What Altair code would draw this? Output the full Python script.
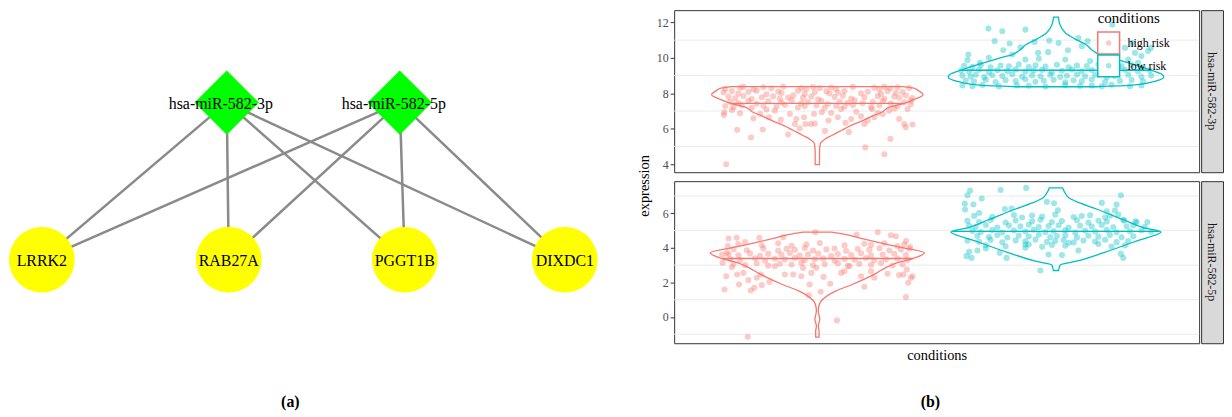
import altair as alt
import pandas as pd

SERIF = "Liberation Serif"
HIGH, LOW = "high risk", "low risk"
MIR3, MIR5 = "hsa-miR-582-3p", "hsa-miR-582-5p"
COLORS = ["#F8766D", "#00BFC4"]

# ---------------- network (a) ----------------
NODE_NAMES = [MIR3, MIR5, "LRRK2", "RAB27A", "PGGT1B", "DIXDC1"]
NODE_KIND = ["mirna", "mirna", "gene", "gene", "gene", "gene"]
NODE_X = [219, 393, 33, 221, 398, 559]      # layout positions
NODE_Y = [93, 93, 251, 251, 251, 251]
EDGES = [(MIR3, "LRRK2"), (MIR3, "RAB27A"), (MIR3, "PGGT1B"), (MIR3, "DIXDC1"),
         (MIR5, "LRRK2"), (MIR5, "RAB27A"), (MIR5, "PGGT1B"), (MIR5, "DIXDC1")]

# ---------------- violin data (b) ----------------
LEGEND_TITLE = "conditions"
LEGEND_ITEMS = [HIGH, LOW]
# jittered points: (jitter offset, expression)
HR_3P = [(-0.382, 4.00), (-0.336, 5.94), (-0.278, 5.51), (-0.229, 5.96), (-0.122, 5.68), (0.032, 5.88),
         (0.132, 5.81), (0.201, 4.95), (0.281, 4.56), (0.306, 5.43), (0.343, 6.55), (0.371, 6.09),
         (0.399, 6.24), (0.364, 6.27), (-0.392, 6.78), (-0.390, 6.93), (-0.358, 7.06), (-0.324, 6.87),
         (-0.268, 6.59), (-0.240, 6.83), (-0.213, 7.08), (-0.178, 7.02), (-0.153, 6.50), (-0.115, 6.83),
         (-0.094, 6.27), (-0.074, 6.03), (-0.050, 6.27), (-0.028, 6.27), (-0.014, 6.83), (-0.011, 6.29),
         (-0.056, 6.65), (-0.088, 6.55), (0.019, 6.93), (0.047, 6.46), (0.058, 6.89), (0.086, 6.65),
         (0.100, 7.11), (0.118, 6.33), (0.142, 6.55), (0.163, 6.96), (0.183, 6.70), (0.197, 6.27),
         (0.211, 6.46), (0.229, 7.11), (0.239, 6.65), (0.253, 6.89), (0.274, 6.83), (0.301, 7.02),
         (0.322, 7.15), (0.378, 7.11), (0.392, 7.39), (-0.203, 6.65),
         (-0.386, 8.25), (-0.324, 8.31), (-0.310, 8.36), (-0.268, 8.22), (-0.226, 8.34), (-0.192, 8.28),
         (-0.143, 8.37), (-0.067, 8.30), (-0.046, 8.24), (-0.018, 8.35), (0.010, 8.29), (0.058, 8.33),
         (0.079, 8.26), (0.149, 8.36), (0.239, 8.32), (0.260, 8.21), (0.281, 8.37), (0.306, 8.27),
         (0.336, 8.34), (0.385, 8.30),
         (-0.393, 8.05), (-0.358, 8.12), (-0.331, 7.98), (-0.289, 8.08), (-0.254, 8.15), (-0.213, 7.95),
         (-0.164, 8.10), (-0.150, 8.02), (-0.081, 8.14), (-0.053, 7.97), (-0.011, 8.06), (0.038, 8.11),
         (0.051, 7.99), (0.086, 8.04), (0.114, 8.13), (0.183, 8.00), (0.211, 8.09), (0.267, 7.96),
         (0.294, 8.12), (0.329, 8.03), (0.357, 8.07),
         (-0.372, 7.80), (-0.344, 7.72), (-0.310, 7.85), (-0.275, 7.68), (-0.233, 7.78), (-0.185, 7.83),
         (-0.157, 7.70), (-0.122, 7.76), (-0.101, 7.88), (-0.060, 7.74), (-0.025, 7.81), (0.003, 7.66),
         (0.072, 7.79), (0.107, 7.86), (0.142, 7.71), (0.197, 7.77), (0.253, 7.84), (0.281, 7.69),
         (0.322, 7.82), (0.343, 7.75), (0.371, 7.87), (0.398, 7.73),
         (-0.365, 7.52), (-0.331, 7.45), (-0.289, 7.58), (-0.254, 7.41), (-0.206, 7.55), (-0.150, 7.48),
         (-0.108, 7.61), (-0.067, 7.43), (-0.039, 7.50), (0.017, 7.57), (0.044, 7.40), (0.093, 7.53),
         (0.128, 7.46), (0.156, 7.60), (0.190, 7.44), (0.232, 7.51), (0.274, 7.56), (0.308, 7.42),
         (0.364, 7.49), (0.392, 7.59),
         (-0.386, 7.28), (-0.351, 7.22), (-0.317, 7.33), (-0.275, 7.18), (-0.226, 7.30), (-0.171, 7.25),
         (-0.136, 7.35), (-0.081, 7.20), (-0.053, 7.27), (-0.004, 7.32), (0.031, 7.19), (0.079, 7.29),
         (0.114, 7.24), (0.149, 7.34), (0.225, 7.21), (0.260, 7.31), (0.336, 7.26)]

LR_3P = [(-0.283, 11.65), (-0.225, 11.50), (-0.128, 11.59), (-0.257, 10.94), (-0.194, 10.81), (-0.221, 10.43),
         (-0.367, 10.19), (-0.371, 9.87), (-0.319, 9.72), (-0.281, 10.00), (-0.149, 10.60), (-0.090, 10.90),
         (-0.075, 10.28), (-0.028, 10.97), (0.011, 10.84), (0.050, 10.43), (-0.033, 10.32), (0.094, 11.12),
         (0.133, 10.94), (0.108, 10.66), (0.236, 11.87), (0.289, 10.56), (0.319, 10.84), (0.331, 10.28),
         (0.358, 10.10), (0.386, 10.38), (0.398, 10.56), (0.303, 9.91), (0.344, 9.72), (0.185, 10.47),
         (0.226, 10.56), (-0.183, 10.19), (-0.128, 9.91), (-0.072, 9.95), (0.039, 9.91), (0.143, 9.82),
         (0.275, 9.54),
         (-0.385, 9.55), (-0.350, 9.49), (-0.315, 9.60), (-0.274, 9.46), (-0.232, 9.57), (-0.197, 9.52),
         (-0.156, 9.63), (-0.114, 9.48), (-0.086, 9.58), (-0.044, 9.51), (0.004, 9.61), (0.053, 9.47),
         (0.088, 9.56), (0.129, 9.53), (0.178, 9.62), (0.261, 9.50), (0.317, 9.59), (0.365, 9.45),
         (-0.398, 9.28), (-0.364, 9.21), (-0.322, 9.33), (-0.281, 9.19), (-0.246, 9.30), (-0.204, 9.25),
         (-0.169, 9.35), (-0.128, 9.22), (-0.093, 9.29), (-0.058, 9.32), (-0.017, 9.18), (0.025, 9.27),
         (0.067, 9.34), (0.108, 9.23), (0.150, 9.31), (0.192, 9.20), (0.233, 9.26), (0.289, 9.33),
         (0.344, 9.24), (0.393, 9.29),
         (-0.392, 9.00), (-0.357, 8.94), (-0.336, 9.05), (-0.301, 8.91), (-0.267, 9.02), (-0.225, 8.97),
         (-0.183, 9.07), (-0.142, 8.93), (-0.100, 9.01), (-0.065, 8.96), (-0.024, 9.04), (0.018, 8.92),
         (0.046, 8.99), (0.088, 9.06), (0.122, 8.95), (0.164, 9.03), (0.213, 8.90), (0.247, 8.98),
         (0.303, 9.05), (0.358, 8.93), (0.399, 9.00),
         (-0.378, 8.72), (-0.343, 8.66), (-0.294, 8.77), (-0.253, 8.63), (-0.211, 8.74), (-0.169, 8.69),
         (-0.128, 8.79), (-0.086, 8.65), (-0.051, 8.71), (-0.010, 8.76), (0.039, 8.62), (0.074, 8.73),
         (0.108, 8.68), (0.150, 8.78), (0.206, 8.64), (0.268, 8.70), (0.317, 8.75), (0.365, 8.67),
         (-0.392, 8.44), (-0.350, 8.40), (-0.308, 8.47), (-0.239, 8.39), (-0.163, 8.45), (-0.114, 8.42),
         (-0.044, 8.38), (0.039, 8.46), (0.101, 8.41), (0.150, 8.43), (0.192, 8.39), (0.233, 8.48),
         (0.310, 8.40), (0.358, 8.44)]

HR_5P = [(-0.292, -1.15), (0.082, -0.20), (0.371, 1.15), (-0.389, 1.59), (-0.328, 1.88), (-0.279, 1.53),
         (-0.264, 1.69), (-0.233, 1.84), (-0.201, 2.02), (-0.032, 1.88), (-0.036, 1.26), (0.014, 1.46),
         (0.054, 1.92), (0.197, 1.75), (0.381, 1.98), (-0.382, 2.36), (-0.336, 2.46), (-0.310, 2.55),
         (-0.289, 2.13), (-0.254, 2.27), (-0.236, 2.46), (-0.178, 2.94), (-0.136, 2.46), (-0.101, 2.46),
         (-0.067, 2.36), (-0.060, 2.84), (-0.025, 2.55), (-0.004, 2.84), (0.026, 2.32), (0.100, 2.55),
         (0.114, 2.65), (0.135, 2.94), (0.183, 2.36), (0.225, 2.65), (0.239, 2.27), (0.294, 2.50),
         (0.343, 2.42), (0.361, 2.46), (0.399, 2.36), (0.392, 2.27), (0.375, 2.75),
         (-0.372, 4.54), (-0.338, 4.58), (-0.303, 4.33), (-0.243, 4.58), (-0.143, 4.62), (-0.008, 4.90),
         (0.165, 4.77), (0.253, 4.90), (0.308, 4.73), (0.329, 4.67), (0.372, 4.39), (0.389, 4.04),
         (-0.375, 4.10), (-0.379, 3.71), (-0.399, 3.61), (-0.397, 3.13), (-0.358, 2.88),
         (-0.331, 4.22), (-0.233, 4.15), (-0.164, 4.26), (-0.108, 4.12), (-0.046, 4.20), (0.010, 4.28),
         (0.114, 4.14), (0.197, 4.24), (0.225, 4.17), (0.281, 4.27), (0.336, 4.11), (0.364, 4.21),
         (-0.351, 3.92), (-0.296, 3.86), (-0.226, 3.97), (-0.164, 3.83), (-0.129, 3.94), (-0.094, 3.89),
         (-0.053, 3.99), (-0.018, 3.85), (0.038, 3.91), (0.072, 3.96), (0.121, 3.82), (0.169, 3.93),
         (0.218, 3.88), (0.260, 3.98), (0.301, 3.84), (0.350, 3.90), (0.385, 3.95),
         (-0.372, 3.63), (-0.331, 3.57), (-0.282, 3.68), (-0.240, 3.54), (-0.206, 3.65), (-0.150, 3.60),
         (-0.115, 3.70), (-0.074, 3.56), (-0.039, 3.62), (0.003, 3.67), (0.058, 3.53), (0.086, 3.64),
         (0.142, 3.59), (0.183, 3.69), (0.225, 3.55), (0.274, 3.61), (0.322, 3.66), (0.371, 3.58),
         (-0.365, 3.35), (-0.324, 3.29), (-0.261, 3.40), (-0.219, 3.26), (-0.178, 3.37), (-0.136, 3.32),
         (-0.094, 3.42), (-0.053, 3.28), (-0.011, 3.34), (0.024, 3.39), (0.072, 3.25), (0.114, 3.36),
         (0.156, 3.31), (0.204, 3.41), (0.239, 3.27), (0.288, 3.33), (0.336, 3.38), (0.378, 3.30),
         (-0.351, 3.06), (-0.303, 3.00), (-0.254, 3.11), (-0.206, 2.97), (-0.157, 3.08), (-0.108, 3.03),
         (-0.067, 3.13), (-0.018, 2.99), (0.031, 3.05), (0.086, 3.10), (0.128, 2.96), (0.176, 3.07),
         (0.225, 3.02), (0.267, 3.12), (0.315, 2.98), (0.357, 3.04)]

LR_5P = [(-0.125, 7.47), (-0.232, 7.35), (-0.360, 7.31), (-0.371, 7.04), (-0.311, 6.85), (-0.382, 6.56),
         (-0.381, 6.22), (-0.346, 6.51), (-0.322, 6.02), (-0.214, 6.25), (-0.186, 6.27), (-0.038, 6.66),
         (-0.008, 6.58), (0.008, 6.18), (0.192, 6.60), (0.272, 7.04), (0.254, 6.50), (0.213, 6.12),
         (0.247, 6.16), (0.261, 5.93), (0.286, 5.58), (0.333, 5.54), (0.383, 5.50), (-0.065, 2.69),
         (0.025, 3.58), (-0.128, 4.00), (-0.128, 4.19), (-0.207, 3.42), (-0.329, 3.85), (-0.364, 3.77),
         (-0.375, 3.52), (-0.354, 3.42), (-0.294, 3.96), (-0.236, 3.71), (-0.031, 3.61), (0.094, 3.85),
         (0.282, 3.42), (0.272, 3.65), (0.053, 4.29),
         (-0.343, 5.85), (-0.267, 5.79), (-0.176, 5.90), (-0.142, 5.76), (-0.100, 5.87), (-0.058, 5.81),
         (-0.003, 5.92), (0.074, 5.78), (0.108, 5.84), (0.143, 5.89), (0.206, 5.75), (0.226, 5.86),
         (-0.371, 5.56), (-0.322, 5.50), (-0.274, 5.61), (-0.211, 5.47), (-0.169, 5.58), (-0.100, 5.53),
         (-0.065, 5.63), (-0.017, 5.49), (0.025, 5.55), (0.088, 5.60), (0.136, 5.46), (0.178, 5.57),
         (0.213, 5.52), (0.282, 5.62), (0.338, 5.48),
         (-0.364, 5.27), (-0.336, 5.21), (-0.294, 5.32), (-0.246, 5.18), (-0.197, 5.29), (-0.149, 5.24),
         (-0.114, 5.34), (-0.072, 5.20), (-0.031, 5.26), (0.011, 5.31), (0.053, 5.17), (0.101, 5.28),
         (0.150, 5.23), (0.192, 5.33), (0.240, 5.19), (0.296, 5.25), (0.324, 5.30), (0.372, 5.22),
         (-0.350, 4.98), (-0.315, 4.92), (-0.267, 5.03), (-0.225, 4.89), (-0.176, 5.00), (-0.128, 4.95),
         (-0.093, 5.05), (-0.044, 4.91), (-0.010, 4.97), (0.039, 5.02), (0.081, 4.88), (0.122, 4.99),
         (0.164, 4.94), (0.213, 5.04), (0.254, 4.90), (0.310, 4.96), (0.358, 5.01), (0.399, 4.93),
         (-0.329, 4.69), (-0.281, 4.63), (-0.246, 4.74), (-0.204, 4.60), (-0.156, 4.71), (-0.114, 4.66),
         (-0.072, 4.76), (-0.024, 4.62), (0.004, 4.68), (0.039, 4.73), (0.088, 4.59), (0.136, 4.70),
         (0.178, 4.65), (0.226, 4.75), (0.275, 4.61), (0.324, 4.67),
         (-0.371, 4.41), (-0.322, 4.35), (-0.274, 4.46), (-0.225, 4.32), (-0.169, 4.43), (-0.128, 4.38),
         (-0.086, 4.48), (-0.038, 4.34), (-0.003, 4.40), (0.032, 4.45), (0.074, 4.31), (0.115, 4.42),
         (0.164, 4.37), (0.206, 4.47), (0.254, 4.33), (0.303, 4.39),
         (-0.294, 4.15), (-0.211, 4.09), (-0.114, 4.20), (-0.058, 4.06), (-0.017, 4.17), (0.039, 4.12),
         (0.178, 4.22), (0.233, 4.08), (0.289, 4.14)]

# violin outlines: (expression, half width)
HR_3P_VIOLIN = [(8.38, 0.36), (8.30, 0.40), (8.14, 0.425), (7.92, 0.443), (7.68, 0.41), (7.43, 0.364),
                (7.21, 0.30), (6.93, 0.27), (6.74, 0.235), (6.46, 0.19), (6.18, 0.14), (5.90, 0.10),
                (5.62, 0.06), (5.40, 0.03), (5.16, 0.012), (4.60, 0.009), (3.98, 0.009)]
LR_3P_VIOLIN = [(12.30, 0.010), (11.87, 0.017), (11.40, 0.040), (11.10, 0.075), (10.75, 0.125),
                (10.40, 0.155), (10.20, 0.18), (10.01, 0.23), (9.73, 0.30), (9.45, 0.368), (9.30, 0.40),
                (9.10, 0.44), (8.92, 0.452), (8.645, 0.405), (8.46, 0.32), (8.37, 0.17)]
HR_5P_VIOLIN = [(4.906, 0.058), (4.81, 0.104), (4.578, 0.174), (4.289, 0.264), (4.00, 0.361),
                (3.711, 0.449), (3.383, 0.40), (3.133, 0.333), (2.844, 0.285), (2.555, 0.25),
                (2.266, 0.208), (1.88, 0.146), (1.495, 0.076), (1.11, 0.03), (0.724, 0.008),
                (0.339, 0.004), (-0.143, 0.010), (-0.528, 0.004), (-0.817, 0.007), (-1.164, 0.007)]
LR_5P_VIOLIN = [(7.47, 0.028), (7.18, 0.038), (6.89, 0.055), (6.60, 0.10), (6.22, 0.175), (5.64, 0.28),
                (5.16, 0.37), (4.93, 0.44), (4.39, 0.336), (3.71, 0.197), (3.23, 0.086), (3.00, 0.017),
                (2.69, 0.011)]
# median lines: (expression, half width)
MEDIANS = {(MIR3, HIGH): (7.43, 0.364), (MIR3, LOW): (9.30, 0.40),
           (MIR5, HIGH): (3.383, 0.40), (MIR5, LOW): (4.96, 0.435)}

Y_DOMAIN = {MIR3: [3.55, 12.69], MIR5: [-1.52, 7.86]}
Y_TICKS = {MIR3: [4, 6, 8, 10, 12], MIR5: [0, 2, 4, 6]}
Y_GRID = {MIR3: [5, 7, 9, 11], MIR5: [-1, 1, 3, 5, 7]}
CENTER = {HIGH: 1, LOW: 2}

# ---------------- tables ----------------
nodes = pd.DataFrame({"name": NODE_NAMES, "kind": NODE_KIND, "x": NODE_X, "y": NODE_Y})
pos = {n: (x, y) for n, x, y in zip(NODE_NAMES, NODE_X, NODE_Y)}
edges = pd.DataFrame([{"x": pos[a][0], "y": pos[a][1], "x2": pos[b][0], "y2": pos[b][1]} for a, b in EDGES])

pt_rows, vl_rows, md_rows = [], [], []
for mir, cond, pts, prof in [(MIR3, HIGH, HR_3P, HR_3P_VIOLIN), (MIR3, LOW, LR_3P, LR_3P_VIOLIN),
                             (MIR5, HIGH, HR_5P, HR_5P_VIOLIN), (MIR5, LOW, LR_5P, LR_5P_VIOLIN)]:
    c = CENTER[cond]
    for j, v in pts:
        pt_rows.append({"mir": mir, "condition": cond, "x": c + j, "expression": v})
    for v, hw in prof:
        vl_rows.append({"mir": mir, "condition": cond, "expression": v, "left": c - hw, "right": c + hw})
    mv, mhw = MEDIANS[(mir, cond)]
    md_rows.append({"mir": mir, "condition": cond, "expression": mv, "left": c - mhw, "right": c + mhw})
pts_df = pd.DataFrame(pt_rows)
vl_df = pd.DataFrame(vl_rows)
md_df = pd.DataFrame(md_rows)
leg_df = pd.DataFrame({"condition": LEGEND_ITEMS})

# ---------------- network chart ----------------
NW, NH = 620, 396
xs = alt.Scale(domain=[0, NW], nice=False, zero=False)
ys = alt.Scale(domain=[0, NH], nice=False, zero=False, reverse=True)
base_x = alt.X("x:Q", scale=xs, axis=None)
base_y = alt.Y("y:Q", scale=ys, axis=None)

edge_layer = alt.Chart(edges).mark_rule(color="#8A8A8A", strokeWidth=2.5).encode(
    x=base_x, y=base_y, x2="x2:Q", y2="y2:Q")
diamonds = alt.Chart(nodes).transform_filter("datum.kind === 'mirna'").mark_point(
    shape="diamond", filled=True, size=4200, color="#00FF00", opacity=1).encode(x=base_x, y=base_y)
circles = alt.Chart(nodes).transform_filter("datum.kind === 'gene'").mark_point(
    shape="circle", filled=True, size=4356, color="#FFFF00", opacity=1).encode(x=base_x, y=base_y)
mir_labels = alt.Chart(nodes).transform_filter("datum.kind === 'mirna'").mark_text(
    font=SERIF, fontSize=16, color="black", dx=-6, dy=1).encode(x=base_x, y=base_y, text="name:N")
gene_labels = alt.Chart(nodes).transform_filter("datum.kind === 'gene'").mark_text(
    font=SERIF, fontSize=16, color="black", dy=1).encode(x=base_x, y=base_y, text="name:N")
cap_a = alt.Chart(alt.Data(values=[{"t": "(a)"}])).mark_text(
    font=SERIF, fontSize=16, fontWeight="bold", color="black").encode(
    text="t:N", x=alt.value(283), y=alt.value(394))

network = alt.layer(edge_layer, diamonds, circles, mir_labels, gene_labels, cap_a).properties(
    width=NW, height=NH, view=alt.ViewBackground(stroke="transparent"))

# ---------------- violin panels ----------------
PW, PH = 528, 163


def legend_layer():
    ly = alt.Y("condition:N", scale=alt.Scale(domain=LEGEND_ITEMS, range=[33, 56], padding=0),
               axis=None)
    cscale = alt.Scale(domain=[HIGH, LOW], range=COLORS)
    keybg = alt.Chart(leg_df).mark_point(shape="square", size=484, filled=True, color="white",
                                         opacity=1).encode(y=ly, x=alt.value(437))
    boxes = alt.Chart(leg_df).mark_point(shape="square", size=484, filled=False, strokeWidth=1.5,
                                         opacity=1).encode(
        y=ly, x=alt.value(437), stroke=alt.Stroke("condition:N", scale=cscale, legend=None))
    dots = alt.Chart(leg_df).mark_circle(size=30, opacity=0.38).encode(
        y=ly, x=alt.value(437), fill=alt.Fill("condition:N", scale=cscale, legend=None))
    labels = alt.Chart(leg_df).mark_text(align="left", font=SERIF, fontSize=12, color="black").encode(
        y=ly, x=alt.value(456), text="condition:N")
    title = alt.Chart(alt.Data(values=[{"t": LEGEND_TITLE}])).mark_text(
        align="left", font=SERIF, fontSize=15, color="black").encode(
        text="t:N", x=alt.value(426), y=alt.value(8))
    return alt.layer(keybg, boxes, dots, labels, title)


def panel(mir, legend, xtitle):
    yscale = alt.Scale(domain=Y_DOMAIN[mir], nice=False, zero=False)
    yaxis = alt.Axis(values=Y_TICKS[mir], title=None, labelFont=SERIF, labelFontSize=12,
                     labelColor="#4D4D4D", labelPadding=2, tickSize=4, tickColor="#333333",
                     domain=False, grid=False)
    if xtitle:
        xaxis = alt.Axis(title="conditions", labels=False, ticks=False, domain=False, grid=False,
                         titleFont=SERIF, titleFontSize=14.5, titleFontWeight="normal",
                         titleColor="black", titlePadding=5)
    else:
        xaxis = None
    xscale = alt.Scale(domain=[0.4, 2.6], nice=False, zero=False)
    cscale = alt.Scale(domain=[HIGH, LOW], range=COLORS)

    grid = alt.Chart(pd.DataFrame({"g": Y_GRID[mir]})).mark_rule(color="#EBEBEB", strokeWidth=1).encode(
        y=alt.Y("g:Q", scale=yscale, axis=yaxis))
    violin = alt.Chart(vl_df[vl_df.mir == mir]).mark_area(
        orient="horizontal", interpolate="monotone", fill="transparent", strokeWidth=1.3).encode(
        y=alt.Y("expression:Q"),
        x=alt.X("left:Q", scale=xscale, axis=xaxis),
        x2="right:Q",
        stroke=alt.Stroke("condition:N", scale=cscale, legend=None))
    median = alt.Chart(md_df[md_df.mir == mir]).mark_rule(strokeWidth=1.3).encode(
        y="expression:Q", x="left:Q", x2="right:Q",
        color=alt.Color("condition:N", scale=cscale, legend=None))
    points = alt.Chart(pts_df[pts_df.mir == mir]).mark_circle(size=38, opacity=0.38).encode(
        y="expression:Q", x="x:Q",
        fill=alt.Fill("condition:N", scale=cscale, legend=None))
    data_layer = alt.layer(grid, violin, median, points)
    if legend:
        out = alt.layer(data_layer, legend_layer()).resolve_scale(
            y="independent", stroke="independent", fill="independent")
    else:
        out = data_layer
    return out.properties(width=PW, height=PH,
                          view=alt.ViewBackground(stroke="#333333", strokeWidth=1))


def strip(mir):
    return alt.Chart(alt.Data(values=[{"label": mir}])).mark_text(
        angle=90, font=SERIF, fontSize=12, color="#1A1A1A").encode(
        text="label:N", x=alt.value(11), y=alt.value(PH / 2)).properties(
        width=22, height=PH, view=alt.ViewBackground(fill="#D9D9D9", stroke="#333333", strokeWidth=1))


IND = dict(x="independent", y="independent", color="independent", fill="independent",
           stroke="independent")

row1 = alt.hconcat(panel(MIR3, True, False), strip(MIR3), spacing=0).resolve_scale(**IND)
row2 = alt.hconcat(panel(MIR5, False, True), strip(MIR5), spacing=0).resolve_scale(**IND)
right = alt.vconcat(row1, row2, spacing=7, title=alt.TitleParams(
    "expression", orient="left", anchor="middle", font=SERIF, fontSize=14.5, fontWeight="normal",
    color="black", offset=3)).resolve_scale(**IND)
right_b = alt.vconcat(right, title=alt.TitleParams(
    "(b)", orient="bottom", anchor="middle", font=SERIF, fontSize=16, fontWeight="bold",
    color="black", offset=32)).resolve_scale(**IND)

chart = alt.hconcat(network, right_b, spacing=11).resolve_scale(**IND).properties(
    padding=0, background="white")

chart.save("out.html", embed_options={"renderer": "svg", "actions": False})
